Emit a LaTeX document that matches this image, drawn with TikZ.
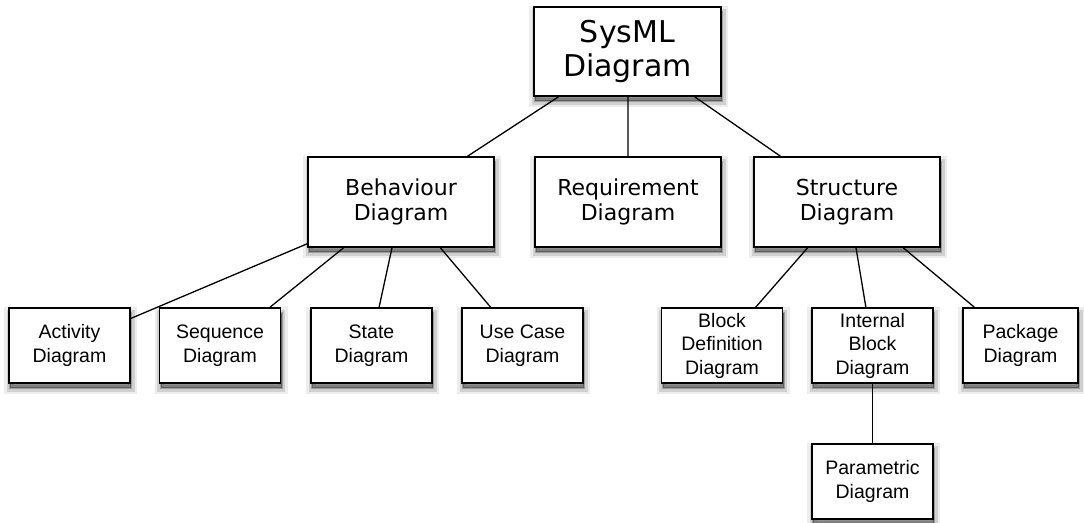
\documentclass[tikz,border=0pt]{standalone}
\usepackage{fontspec}
\usetikzlibrary{calc, shadows}
\newfontfamily\bigsans{DejaVu Sans}
\newfontfamily\smallsans{Liberation Sans}

\begin{document}
\begin{tikzpicture}[x=1pt, y=-1pt,
  softshadow/.style={
    general shadow={fill=black, draw=black, opacity=.07, line width=12pt, shadow xshift=1pt, shadow yshift=-5pt},
    general shadow={fill=black, draw=black, opacity=.12, line width=7pt, shadow xshift=1pt, shadow yshift=-5pt},
    general shadow={fill=black, draw=black, opacity=.25, line width=2pt, shadow xshift=1pt, shadow yshift=-5pt}},
  box/.style={draw, line width=1.6pt, fill=white, align=center, inner sep=0pt, softshadow},
  topbox/.style={box, minimum width=187pt, minimum height=89pt, font=\bigsans\fontsize{30}{34}\selectfont},
  midbox/.style={box, minimum width=186pt, minimum height=90pt, font=\bigsans\fontsize{22}{25}\selectfont},
  leafbox/.style={box, minimum width=121pt, minimum height=75pt, font=\smallsans\fontsize{19.5}{23.5}\selectfont},
  link/.style={line width=1.3pt}]
\useasboundingbox (0,0) rectangle (1084,522);

% root and first level
\node [topbox] (sysml) at (627.5,51.5) {SysML\\Diagram};
\node [midbox] (beh) at (401,202) {Behaviour\\Diagram};
\node [midbox] (req) at (628,202) {Requirement\\Diagram};
\node [midbox] (str) at (847,202) {Structure\\Diagram};

% behaviour leaves
\node [leafbox] (act) at (69.5,345.5) {Activity\\Diagram};
\node [leafbox] (seq) at (220,345.5) {Sequence\\Diagram};
\node [leafbox] (sta) at (371.5,345.5) {State\\Diagram};
\node [leafbox] (use) at (522.5,345.5) {Use Case\\Diagram};

% structure leaves
\node [leafbox] (blk) at (722,345.5) {Block\\Definition\\Diagram};
\node [leafbox] (ibd) at (872.5,345.5) {Internal\\Block\\Diagram};
\node [leafbox, minimum width=115pt] (pkg) at (1020.5,345.5) {Package\\Diagram};
\node [leafbox] (par) at (872.5,481.5) {Parametric\\Diagram};

\draw [link] ($(sysml.south west)!.134!(sysml.south east)$) -- ($(beh.north west)!.855!(beh.north east)$);
\draw [link] ($(sysml.south west)!.503!(sysml.south east)$) -- (req.north);
\draw [link] ($(sysml.south west)!.856!(sysml.south east)$) -- ($(str.north west)!.145!(str.north east)$);

\draw [link] ($(beh.north west)!.956!(beh.south west)$) -- ($(act.north east)!.147!(act.south east)$);
\draw [link] ($(beh.south west)!.194!(beh.south east)$) -- ($(seq.north west)!.908!(seq.north east)$);
\draw [link] ($(beh.south west)!.452!(beh.south east)$) -- ($(sta.north west)!.562!(sta.north east)$);
\draw [link] ($(beh.south west)!.71!(beh.south east)$) -- ($(use.north west)!.24!(use.north east)$);

\draw [link] ($(str.south west)!.29!(str.south east)$) -- ($(blk.north west)!.775!(blk.north east)$);
\draw [link] ($(str.south west)!.548!(str.south east)$) -- ($(ibd.north west)!.446!(ibd.north east)$);
\draw [link] ($(str.south west)!.80!(str.south east)$) -- ($(pkg.north west)!.104!(pkg.north east)$);
\draw [link] (ibd.south) -- (par.north);
\end{tikzpicture}
\end{document}
